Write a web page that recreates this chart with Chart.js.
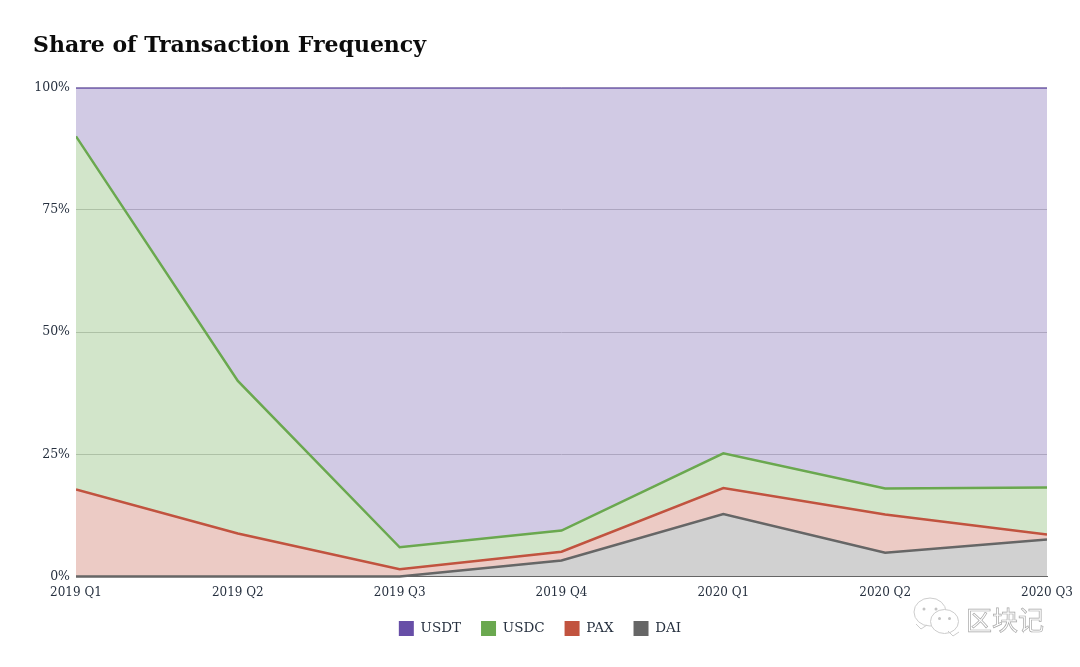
<!DOCTYPE html>
<html>
<head>
<meta charset="utf-8">
<script src="https://cdn.jsdelivr.net/npm/chart.js@4"></script>
<style>
  body { margin: 0; background: #fff; }
</style>
</head>
<body>
<canvas id="chart" width="1080" height="667"></canvas>
<script>
const quarters = ['2019 Q1', '2019 Q2', '2019 Q3', '2019 Q4', '2020 Q1', '2020 Q2', '2020 Q3'];
// share of each coin, stacked from DAI upwards
const dai  = [0, 0, 0, 3.3, 12.8, 4.9, 7.6];
const pax  = [17.8, 8.8, 1.5, 1.8, 5.3, 7.8, 1.0];
const usdc = [72.2, 31.2, 4.5, 4.3, 7.1, 5.3, 9.6];
const usdt = [10, 60, 94, 90.6, 74.8, 82, 81.8];
const yTicks = [0, 25, 50, 75, 100];

const serif = '"DejaVu Serif", serif';
const tickColor = '#26303f';

function series(label, data, color, fill) {
  return {
    label: label,
    data: data,
    borderColor: color,
    backgroundColor: color + '4d',
    borderWidth: 2.5,
    pointRadius: 0,
    tension: 0,
    clip: { left: 0, right: 0, top: 0, bottom: 2 },
    fill: fill
  };
}

function bubble(c, x, y, rx, ry, tailX, tailY, eye) {
  c.beginPath();
  c.ellipse(x, y, rx, ry, 0, 0, Math.PI * 2);
  c.moveTo(tailX - 5, tailY - 5);
  c.lineTo(tailX, tailY);
  c.lineTo(tailX + 6, tailY - 4);
  c.fill();
  c.stroke();
  c.save();
  c.fillStyle = '#c4c4c4';
  c.beginPath();
  c.arc(x - eye, y - 3, 1.5, 0, Math.PI * 2);
  c.arc(x + eye, y - 3, 1.5, 0, Math.PI * 2);
  c.fill();
  c.restore();
}

// wechat style mark in the bottom right corner
const watermark = {
  id: 'watermark',
  afterDraw(chart) {
    const c = chart.ctx;
    c.save();
    c.strokeStyle = '#cccccc';
    c.fillStyle = '#ffffff';
    c.lineWidth = 1;
    bubble(c, 930, 612, 16, 14, 921, 629, 6);
    bubble(c, 944.5, 621.5, 14, 12, 953, 636, 5);
    c.font = '26px "Noto Sans CJK SC"';
    c.strokeStyle = '#a8a8a8';
    c.lineWidth = 0.7;
    c.textBaseline = 'middle';
    c.strokeText('区块记', 966, 620);
    c.restore();
  }
};

new Chart(document.getElementById('chart'), {
  type: 'line',
  data: {
    labels: quarters,
    datasets: [
      series('DAI', dai, '#666666', 'origin'),
      series('PAX', pax, '#c1533f', '-1'),
      series('USDC', usdc, '#6aa84f', '-1'),
      series('USDT', usdt, '#674ea7', '-1')
    ]
  },
  plugins: [watermark],
  options: {
    responsive: false,
    animation: false,
    layout: { padding: { left: 33, right: 33, top: 33, bottom: 21 } },
    plugins: {
      tooltip: { enabled: false },
      title: {
        display: true,
        text: 'Share of Transaction Frequency',
        align: 'start',
        color: '#0c0c0c',
        font: { family: serif, size: 22, weight: 'bold' },
        padding: { top: 0, bottom: 28 }
      },
      legend: {
        position: 'bottom',
        reverse: true,
        labels: {
          boxWidth: 15,
          boxHeight: 15,
          padding: 20,
          color: tickColor,
          font: { family: serif, size: 13.5 },
          generateLabels(chart) {
            return Chart.defaults.plugins.legend.labels.generateLabels(chart).map(function (item) {
              item.fillStyle = chart.data.datasets[item.datasetIndex].borderColor;
              item.lineWidth = 0;
              return item;
            });
          }
        }
      }
    },
    scales: {
      x: {
        offset: false,
        grid: { display: false },
        border: { color: '#666666' },
        ticks: {
          color: tickColor,
          font: { family: serif, size: 12 },
          maxRotation: 0,
          autoSkip: false,
          padding: 1
        }
      },
      y: {
        stacked: true,
        min: 0,
        max: 100,
        afterBuildTicks(axis) {
          axis.ticks = yTicks.map(v => ({ value: v }));
        },
        afterFit(axis) {
          axis.width = 43;
        },
        grid: { color: '#cccccc', drawTicks: false },
        border: { display: false },
        ticks: {
          color: tickColor,
          font: { family: serif, size: 12.5 },
          padding: 6,
          callback: v => v + '%'
        }
      }
    }
  }
});
</script>
</body>
</html>
